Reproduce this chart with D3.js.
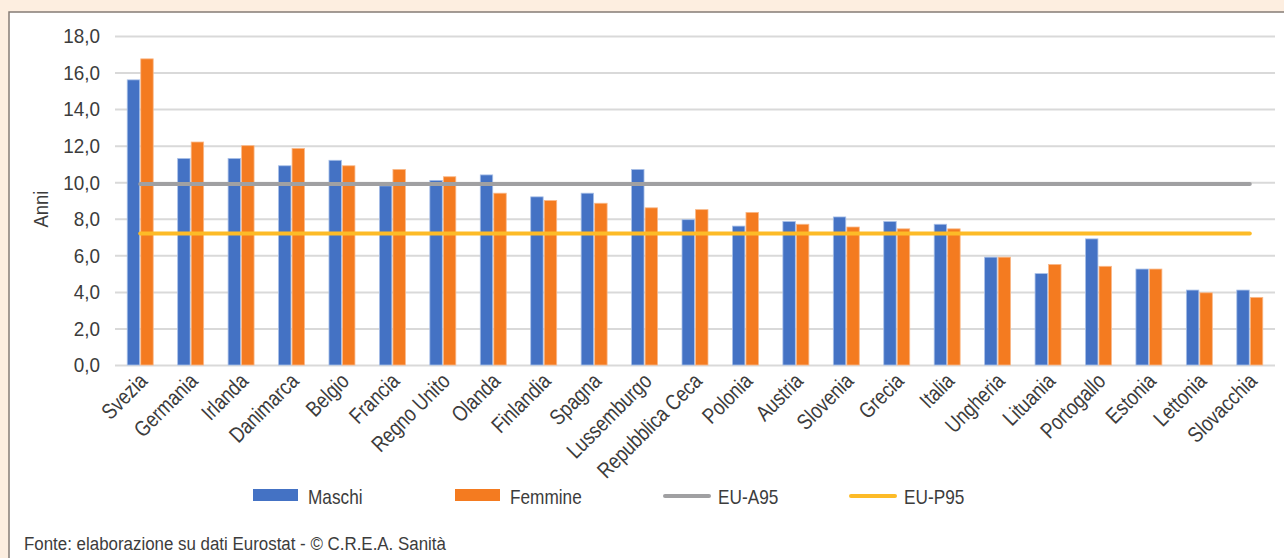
<!DOCTYPE html>
<html>
<head>
<meta charset="utf-8">
<script src="https://cdn.jsdelivr.net/npm/d3@7"></script>
<style>
  html, body { margin: 0; padding: 0; background: #fdeee0; }
  svg { display: block; }
  text { font-family: "Liberation Sans", Arial, sans-serif; fill: #3c3c3c; }
</style>
</head>
<body>
<svg id="chart" width="1284" height="558"></svg>
<script>
const categories = ["Svezia","Germania","Irlanda","Danimarca","Belgio","Francia","Regno Unito","Olanda","Finlandia","Spagna","Lussemburgo","Repubblica Ceca","Polonia","Austria","Slovenia","Grecia","Italia","Ungheria","Lituania","Portogallo","Estonia","Lettonia","Slovacchia"];
const maschi  = [15.6, 11.3, 11.3, 10.9, 11.2, 9.8, 10.1, 10.4, 9.2, 9.4, 10.7, 7.95, 7.6, 7.85, 8.1, 7.85, 7.7, 5.9, 5.0, 6.9, 5.25, 4.1, 4.1];
const femmine = [16.75, 12.2, 12.0, 11.85, 10.9, 10.7, 10.3, 9.4, 9.0, 8.85, 8.6, 8.5, 8.35, 7.7, 7.55, 7.45, 7.45, 5.9, 5.5, 5.4, 5.25, 3.95, 3.7];
const euA95 = [9.9,9.9,9.9,9.9,9.9,9.9,9.9,9.9,9.9,9.9,9.9,9.9,9.9,9.9,9.9,9.9,9.9,9.9,9.9,9.9,9.9,9.9,9.9];
const euP95 = [7.2,7.2,7.2,7.2,7.2,7.2,7.2,7.2,7.2,7.2,7.2,7.2,7.2,7.2,7.2,7.2,7.2,7.2,7.2,7.2,7.2,7.2,7.2];
const yTicks = [0, 2, 4, 6, 8, 10, 12, 14, 16, 18];
const seriesNames = ["Maschi", "Femmine"];
const lineNames = ["EU-A95", "EU-P95"];
const yTitle = "Anni";
const sourceText = "Fonte: elaborazione su dati Eurostat - © C.R.E.A. Sanità";

const colors = { Maschi: "#4472c4", Femmine: "#f47b20", "EU-A95": "#a0a0a2", "EU-P95": "#fdbb27" };

const svg = d3.select("#chart");

// panel
svg.append("rect").attr("x", 9).attr("y", 12).attr("width", 1290).attr("height", 560)
  .attr("fill", "#ffffff").attr("stroke", "#857c75").attr("stroke-width", 1.5);

const pLeft = 115, pRight = 1275, pTop = 36, pBottom = 365;
const x = d3.scaleBand().domain(categories).range([pLeft, pRight]).paddingInner(0.485).paddingOuter(0.2425);
const x1 = d3.scaleBand().domain(seriesNames).range([0, x.bandwidth()]).paddingInner(0.08);
const y = d3.scaleLinear().domain([0, 18]).range([pBottom, pTop]);

// gridlines
const yAxis = d3.axisLeft(y).tickValues(yTicks).tickSize(-(pRight - pLeft)).tickFormat("");
const gy = svg.append("g").attr("transform", `translate(${pLeft},0)`).call(yAxis);
gy.select(".domain").remove();
gy.selectAll(".tick line").attr("stroke", "#d9d9d9").attr("stroke-width", 2);

// y tick labels (condensed look)
svg.append("g").selectAll("text").data(yTicks).join("text")
  .attr("transform", d => `translate(${pLeft - 15},${y(d)}) scale(0.9,1)`)
  .attr("text-anchor", "end").attr("dy", "0.35em").attr("font-size", 21)
  .text(d => d3.format(".1f")(d).replace(".", ","));

// y title
svg.append("text").attr("transform", `translate(48,209) rotate(-90) scale(0.92,1)`)
  .attr("text-anchor", "middle").attr("font-size", 20).text(yTitle);

// bars
const data = categories.map((c, i) => ({ c, vals: [{ s: "Maschi", v: maschi[i] }, { s: "Femmine", v: femmine[i] }] }));
const groups = svg.append("g").selectAll("g").data(data).join("g")
  .attr("transform", d => `translate(${x(d.c)},0)`);
groups.selectAll("rect").data(d => d.vals).join("rect")
  .attr("x", d => x1(d.s)).attr("width", x1.bandwidth())
  .attr("y", d => y(d.v)).attr("height", d => y(0) - y(d.v))
  .attr("fill", d => colors[d.s])
  .attr("stroke", d => d.s === "Maschi" ? "#a9c0e8" : "#f9b98a").attr("stroke-width", 0.8);

// lines
const line = d3.line().x((d, i) => x(categories[i]) + x.bandwidth() / 2).y(d => y(d));
svg.append("path").datum(euA95).attr("d", line).attr("fill", "none")
  .attr("stroke", colors["EU-A95"]).attr("stroke-width", 4).attr("stroke-linecap", "round");
svg.append("path").datum(euP95).attr("d", line).attr("fill", "none")
  .attr("stroke", colors["EU-P95"]).attr("stroke-width", 4).attr("stroke-linecap", "round");

// x labels
const gx = svg.append("g");
gx.selectAll("text").data(categories).join("text")
  .attr("transform", d => `translate(${x(d) + x.bandwidth() / 2 + 3},${pBottom + 12}) rotate(-45) scale(0.82,1)`)
  .attr("text-anchor", "end").attr("dy", "0.35em").attr("font-size", 22).text(d => d);

// legend
const legY = 495;
const legItems = [
  { name: "Maschi", type: "rect", x: 253 },
  { name: "Femmine", type: "rect", x: 455 },
  { name: "EU-A95", type: "line", x: 663 },
  { name: "EU-P95", type: "line", x: 849 }
];
const leg = svg.append("g");
legItems.forEach(it => {
  if (it.type === "rect") {
    leg.append("rect").attr("x", it.x).attr("y", legY - 6).attr("width", 45).attr("height", 12).attr("fill", colors[it.name]);
  } else {
    leg.append("line").attr("x1", it.x + 2).attr("x2", it.x + 46).attr("y1", legY + 1).attr("y2", legY + 1)
      .attr("stroke", colors[it.name]).attr("stroke-width", 4).attr("stroke-linecap", "round");
  }
  leg.append("text").attr("transform", `translate(${it.x + 55},${legY + 2}) scale(0.82,1)`)
    .attr("dy", "0.35em").attr("font-size", 21).text(it.name);
});

// source
svg.append("text").attr("transform", "translate(24,543) scale(0.89,1)")
  .attr("dy", "0.35em").attr("font-size", 19).text(sourceText);
</script>
</body>
</html>
